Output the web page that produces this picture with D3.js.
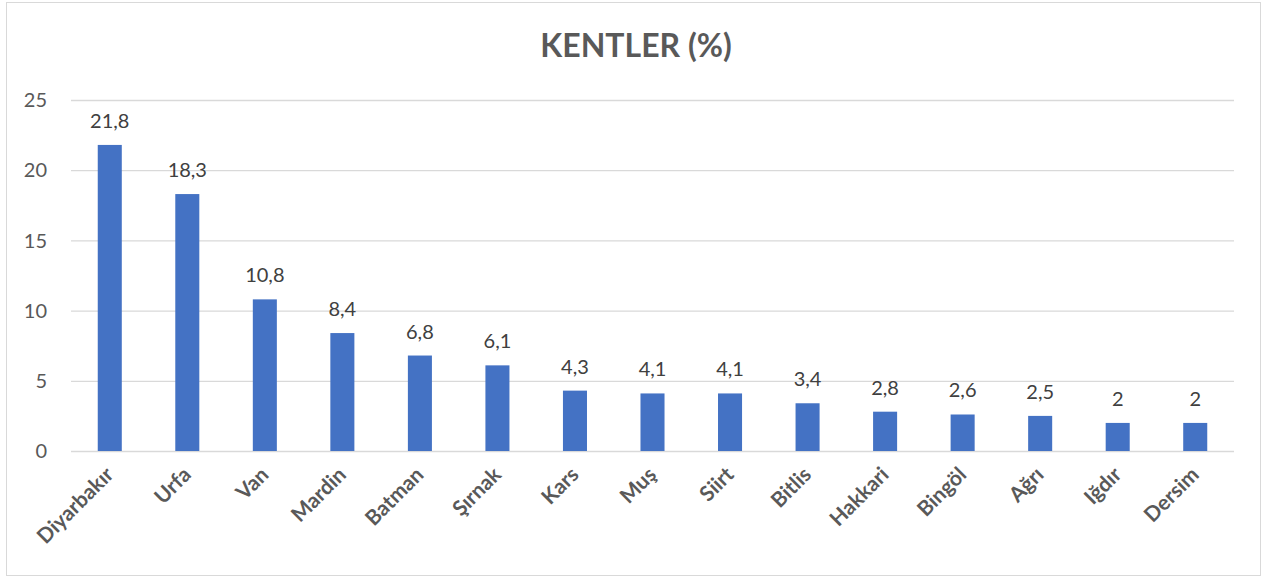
<!DOCTYPE html>
<html>
<head>
<meta charset="utf-8">
<script src="https://cdn.jsdelivr.net/npm/d3@7"></script>
<style>
  body { margin: 0; background: #fff; }
  text { font-family: Lato, "Noto Sans", sans-serif; }
</style>
</head>
<body>
<div id="chart"></div>
<script>
var cities = ['Diyarbakır', 'Urfa', 'Van', 'Mardin', 'Batman', 'Şırnak', 'Kars', 'Muş', 'Siirt', 'Bitlis', 'Hakkari', 'Bingöl', 'Ağrı', 'Iğdır', 'Dersim']
var values = [21.8, 18.3, 10.8, 8.4, 6.8, 6.1, 4.3, 4.1, 4.1, 3.4, 2.8, 2.6, 2.5, 2, 2]
var yTicks = [0, 5, 10, 15, 20, 25]

var width = 1269, height = 578
var margin = {top: 100, right: 35, bottom: 127, left: 71}

var svg = d3.select('#chart').append('svg')
    .attr('width', width)
    .attr('height', height)

svg.append('rect')
    .attr('x', 6.5).attr('y', 2.5)
    .attr('width', 1254).attr('height', 573)
    .attr('fill', '#fff')
    .attr('stroke', '#d9d9d9')

var x = d3.scaleBand()
    .domain(cities)
    .range([margin.left, width - margin.right])
    .paddingInner(0.69)
    .paddingOuter(0.345)

var y = d3.scaleLinear()
    .domain([0, 25])
    .range([height - margin.bottom, margin.top])

// grid
svg.append('g').selectAll('line')
    .data(yTicks)
    .join('line')
    .attr('x1', margin.left)
    .attr('x2', width - margin.right)
    .attr('y1', d => y(d) + 0.5)
    .attr('y2', d => y(d) + 0.5)
    .attr('stroke', '#d9d9d9')
    .attr('stroke-width', 1.3)

// y labels
svg.append('g').selectAll('text')
    .data(yTicks)
    .join('text')
    .attr('x', 47)
    .attr('y', d => y(d))
    .attr('dy', '0.36em')
    .attr('text-anchor', 'end')
    .attr('fill', '#595959')
    .style('font-size', '20px')
    .text(d => d)

// bars
svg.append('g').selectAll('rect')
    .data(values)
    .join('rect')
    .attr('x', (d, i) => x(cities[i]))
    .attr('y', d => y(d))
    .attr('width', x.bandwidth())
    .attr('height', d => y(0) - y(d))
    .attr('fill', '#4472c4')

// value labels
svg.append('g').selectAll('text')
    .data(values)
    .join('text')
    .attr('x', (d, i) => x(cities[i]) + x.bandwidth() / 2)
    .attr('y', d => y(d) - 17)
    .attr('text-anchor', 'middle')
    .attr('fill', '#404040')
    .style('font-size', '20px')
    .text(d => String(d).replace('.', ','))

// x labels
svg.append('g').selectAll('text')
    .data(cities)
    .join('text')
    .attr('transform', d => 'translate(' + (x(d) + x.bandwidth() / 2 + 5) + ',' + (y(0) + 25) + ') rotate(-45)')
    .attr('text-anchor', 'end')
    .attr('fill', '#595959')
    .style('font-size', '21px')
    .style('font-weight', 'bold')
    .text(d => d)

// title
svg.append('text')
    .attr('x', 636)
    .attr('y', 57)
    .attr('text-anchor', 'middle')
    .attr('fill', '#595959')
    .style('font-size', '32px')
    .style('font-weight', 'bold')
    .text('KENTLER (%)')
</script>
</body>
</html>
